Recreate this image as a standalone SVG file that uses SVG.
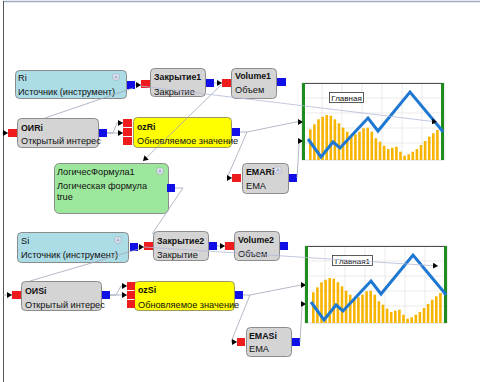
<svg xmlns="http://www.w3.org/2000/svg" xmlns:xlink="http://www.w3.org/1999/xlink" width="480" height="382" viewBox="0 0 480 382">
<style>
text{font-family:"Liberation Sans",Arial,sans-serif;font-size:9.2px;fill:#111}
.b{font-weight:bold;font-size:8.8px}
.gray{fill:#d4d4d4;stroke:#8c8c8c;stroke-width:1}
.blue{fill:#acdce6;stroke:#8c8c8c;stroke-width:1}
.green{fill:#9de79d;stroke:#8c8c8c;stroke-width:1}
.yellow{fill:#ffff00;stroke:#9a9a60;stroke-width:1}
.pin{fill:#ee1c1c}
.pout{fill:#1010e6}
.icon{fill:#eef0f8;stroke:#9aa0b8;stroke-width:0.6}
.chev{fill:none;stroke:#6070a0;stroke-width:0.7}
.con{fill:none;stroke:#a0a6b8;stroke-width:0.8}
.lng{fill:none;stroke:#b4bad8;stroke-width:0.8}
.bar{fill:#f7b500}
.grid{stroke:#e2e2e2;stroke-width:0.7}
</style>
<defs>
<marker id="ah" markerWidth="5" markerHeight="6" refX="5" refY="3" orient="auto" markerUnits="userSpaceOnUse"><path d="M0,0 L5,3 L0,6 z" fill="#000"/></marker>
<g id="ic"><rect x="0" y="0" width="6" height="6" rx="1" class="icon"/><path d="M1.5,3 L3,1.6 L4.5,3 M1.5,4.6 L3,3.2 L4.5,4.6" class="chev"/></g>
<g id="chartBody">
<rect x="302" y="83" width="142" height="77" fill="#fff" stroke="#d0d0d0" stroke-width="0.8"/>
<path class="grid" d="M322,83V160M342,83V160M362,83V160M382,83V160M402,83V160M422,83V160M302,98H444M302,113H444M302,128H444M302,143H444"/>
<g class="bar">
<rect x="309.0" y="129.3" width="2.6" height="30.7"/><rect x="313.1" y="124.3" width="2.6" height="35.7"/><rect x="317.2" y="119.3" width="2.6" height="40.7"/><rect x="321.3" y="116.7" width="2.6" height="43.3"/><rect x="325.4" y="115" width="2.6" height="45"/><rect x="329.5" y="115.7" width="2.6" height="44.3"/><rect x="333.6" y="119.3" width="2.6" height="40.7"/><rect x="337.7" y="123.3" width="2.6" height="36.7"/><rect x="341.8" y="127.7" width="2.6" height="32.3"/><rect x="345.9" y="131.7" width="2.6" height="28.3"/><rect x="350.0" y="136" width="2.6" height="24"/><rect x="354.1" y="134.3" width="2.6" height="25.7"/><rect x="358.2" y="131.7" width="2.6" height="28.3"/><rect x="362.3" y="128.3" width="2.6" height="31.7"/><rect x="366.4" y="127.7" width="2.6" height="32.3"/><rect x="370.5" y="131.7" width="2.6" height="28.3"/><rect x="374.6" y="138.3" width="2.6" height="21.7"/><rect x="378.7" y="141.7" width="2.6" height="18.3"/><rect x="382.8" y="145.7" width="2.6" height="14.3"/><rect x="386.9" y="149" width="2.6" height="11"/><rect x="391.0" y="147.7" width="2.6" height="12.3"/><rect x="395.1" y="146.7" width="2.6" height="13.3"/><rect x="399.2" y="151.7" width="2.6" height="8.3"/><rect x="403.3" y="155.7" width="2.6" height="4.3"/><rect x="407.4" y="154.3" width="2.6" height="5.7"/><rect x="411.5" y="151.7" width="2.6" height="8.3"/><rect x="415.6" y="149" width="2.6" height="11"/><rect x="419.7" y="145" width="2.6" height="15"/><rect x="423.8" y="141" width="2.6" height="19"/><rect x="427.9" y="136.7" width="2.6" height="23.3"/><rect x="432.0" y="133.3" width="2.6" height="26.7"/><rect x="436.1" y="130" width="2.6" height="30"/>
</g>
<path d="M302,83.5H444" stroke="#505050" stroke-width="1"/>
<rect x="302" y="83" width="3" height="77" fill="#1e8c1e"/>
<rect x="441" y="83" width="3" height="77" fill="#1e8c1e"/>
<polyline points="308,139 321,157 333,142 340,148 368,118 378,131 410,92 440,128 443,132" fill="none" stroke="#1e78d2" stroke-width="3" stroke-linejoin="miter"/>
</g>
</defs>

<rect x="0" y="0" width="480" height="382" fill="#fff"/>
<path d="M3,1.5H480" stroke="#9aaac0" stroke-width="1.5"/>
<path d="M3.5,1V382" stroke="#555" stroke-width="1"/>

<g id="chart1">
<use xlink:href="#chartBody"/>
<rect x="329.5" y="92.5" width="34" height="10" fill="#fff" stroke="#333" stroke-width="0.8"/>
<text x="346.5" y="100.5" text-anchor="middle" style="font-size:8px">Главная</text>
</g>
<g id="chart2">
<use xlink:href="#chartBody" transform="translate(3,163)"/>
<rect x="332.5" y="255.5" width="40" height="10" fill="#fff" stroke="#333" stroke-width="0.8"/>
<text x="352.5" y="263.5" text-anchor="middle" style="font-size:8px">Главная1</text>
</g>

<g id="Ri">
<rect x="15.5" y="70.5" width="111" height="28" rx="4" class="blue"/>
<use xlink:href="#ic" x="113" y="74"/>
<text x="18" y="80.5">Ri</text>
<text x="18" y="95">Источник (инструмент)</text>
<rect x="127" y="81" width="8" height="8" class="pout"/>
</g>
<g id="Zakrytie1">
<rect x="150.5" y="68.5" width="55" height="28" rx="4" class="gray"/>
<text x="154" y="80" class="b">Закрытие1</text>
<text x="154" y="95">Закрытие</text>
<rect x="141" y="80" width="9" height="8" class="pin"/>
<rect x="206" y="79" width="8" height="8" class="pout"/>
</g>
<g id="Volume1">
<rect x="231.5" y="68.5" width="45" height="30" rx="4" class="gray"/>
<text x="235" y="79" class="b">Volume1</text>
<text x="235" y="93">Объем</text>
<rect x="222" y="79" width="9" height="8" class="pin"/>
<rect x="277" y="78" width="9" height="8" class="pout"/>
</g>
<g id="OIRi">
<rect x="17.5" y="118.5" width="81" height="29" rx="4" class="gray"/>
<text x="21" y="130.5" class="b">OИRi</text>
<text x="21" y="144">Открытый интерес</text>
<rect x="8" y="129" width="9" height="8" class="pin"/>
<rect x="99" y="129" width="8" height="8" class="pout"/>
</g>
<g id="ozRi">
<rect x="133.5" y="117.5" width="98" height="30" rx="4" class="yellow"/>
<text x="137" y="129.5" class="b">ozRi</text>
<text x="137" y="143.5">Обновляемое значение</text>
<rect x="123" y="119" width="9" height="8" class="pin"/>
<rect x="123" y="128" width="9" height="8" class="pin"/>
<rect x="123" y="137" width="9" height="8" class="pin"/>
<rect x="232" y="128" width="8" height="8" class="pout"/>
</g>
<g id="LogicFormula1">
<rect x="54.5" y="163.5" width="114" height="50" rx="5" class="green"/>
<use xlink:href="#ic" x="157" y="168"/>
<text x="57" y="175">ЛогичесФормула1</text>
<text x="57" y="188.5">Логическая формула</text>
<text x="57" y="199.5">true</text>
<rect x="167" y="184" width="8" height="8" class="pout"/>
</g>
<g id="EMARi">
<rect x="242.5" y="163.5" width="46" height="30" rx="4" class="gray"/>
<use xlink:href="#ic" x="275" y="167"/>
<text x="246" y="175" class="b">EMARi</text>
<text x="246" y="188.5">EMA</text>
<rect x="232" y="174" width="9" height="8" class="pin"/>
<rect x="289" y="174" width="8" height="8" class="pout"/>
</g>
<g id="Si">
<rect x="17.5" y="232.5" width="111" height="30" rx="4" class="blue"/>
<use xlink:href="#ic" x="115" y="237"/>
<text x="21" y="243.5">Si</text>
<text x="21" y="258">Источник (инструмент)</text>
<rect x="130" y="243" width="8" height="8" class="pout"/>
</g>
<g id="Zakrytie2">
<rect x="153.5" y="231.5" width="55" height="29" rx="4" class="gray"/>
<text x="157" y="243.5" class="b">Закрытие2</text>
<text x="157" y="257.5">Закрытие</text>
<rect x="144" y="242" width="9" height="8" class="pin"/>
<rect x="209" y="242" width="8" height="8" class="pout"/>
</g>
<g id="Volume2">
<rect x="234.5" y="231.5" width="45" height="29" rx="4" class="gray"/>
<text x="238" y="242.5" class="b">Volume2</text>
<text x="238" y="256.5">Объем</text>
<rect x="225" y="242" width="9" height="8" class="pin"/>
<rect x="280" y="242" width="8" height="8" class="pout"/>
</g>
<g id="OISi">
<rect x="21.5" y="281.5" width="80" height="29" rx="4" class="gray"/>
<text x="25" y="293.5" class="b">OИSi</text>
<text x="25" y="308">Открытый интерес</text>
<rect x="12" y="291" width="9" height="8" class="pin"/>
<rect x="102" y="291" width="8" height="8" class="pout"/>
</g>
<g id="ozSi">
<rect x="134.5" y="281.5" width="100" height="29" rx="4" class="yellow"/>
<text x="138" y="292.5" class="b">ozSi</text>
<text x="138" y="308">Обновляемое значение</text>
<rect x="127" y="282" width="8" height="8" class="pin"/>
<rect x="127" y="291" width="8" height="8" class="pin"/>
<rect x="127" y="300" width="8" height="8" class="pin"/>
<rect x="235" y="291" width="8" height="8" class="pout"/>
</g>
<g id="EMASi">
<rect x="246.5" y="327.5" width="45" height="29" rx="4" class="gray"/>
<use xlink:href="#ic" x="270" y="331"/>
<text x="249" y="338.5" class="b">EMASi</text>
<text x="249" y="352">EMA</text>
<rect x="237" y="338" width="8" height="8" class="pin"/>
<rect x="292" y="338" width="8" height="8" class="pout"/>
</g>

<g id="connectors">
<path class="con" d="M135,85H141" marker-end="url(#ah)"/>
<path class="con" d="M133,88L45,118M2,133H8" marker-end="url(#ah)"/>
<path class="con" d="M107,133H113L117,123H123" marker-end="url(#ah)"/>
<path class="con" d="M107,133H123" marker-end="url(#ah)"/>
<path class="con" d="M214,83H222" marker-end="url(#ah)"/>
<path class="con" d="M221,85L143,161" marker-end="url(#ah)"/>
<path class="lng" d="M140,86L437,122" marker-end="url(#ah)"/>
<path class="con" d="M240,132H247L296,122H303" marker-end="url(#ah)"/>
<path class="con" d="M247,132L227,178H232" marker-end="url(#ah)"/>
<path class="con" d="M297,178L299,145V141H303" marker-end="url(#ah)"/>
<path class="con" d="M175,188H183L152,234" />
<path class="con" d="M138,247H144" marker-end="url(#ah)"/>
<path class="con" d="M139,249L30,281M3,295H12" marker-end="url(#ah)"/>
<path class="con" d="M217,246H225" marker-end="url(#ah)"/>
<path class="lng" d="M144,247L438,266" marker-end="url(#ah)"/>
<path class="con" d="M110,295H116L121,286H127" marker-end="url(#ah)"/>
<path class="con" d="M110,295H127" marker-end="url(#ah)"/>
<path class="con" d="M243,295H250L301,285H306" marker-end="url(#ah)"/>
<path class="con" d="M250,295L231,342H237" marker-end="url(#ah)"/>
<path class="con" d="M300,342L302,308V304H306" marker-end="url(#ah)"/>
</g>
</svg>
